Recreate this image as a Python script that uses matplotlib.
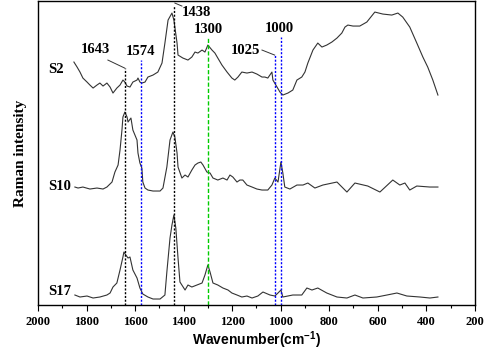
import matplotlib
matplotlib.use("Agg")
import matplotlib.pyplot as plt
import numpy as np

plt.rcParams['mathtext.fontset'] = 'custom'
plt.rcParams['mathtext.rm'] = 'Liberation Sans:bold'
plt.rcParams['mathtext.bf'] = 'Liberation Sans:bold'

# spectra (wavenumber cm-1, stacked intensity a.u.)
s2_wn = [1852, 1839, 1827, 1815, 1798, 1786, 1773, 1757, 1745, 1732, 1716, 1703, 1691, 1675,
         1662, 1650, 1642, 1633, 1621, 1609, 1592, 1588, 1580, 1572, 1559, 1547, 1526, 1506,
         1489, 1477, 1464, 1448, 1440, 1427, 1423, 1403, 1382, 1366, 1353, 1341, 1324, 1312,
         1300, 1283, 1271, 1259, 1242, 1221, 1201, 1189, 1176, 1160, 1139, 1118, 1098, 1077,
         1065, 1053, 1036, 1032, 1015, 1003, 991, 970, 950, 933, 913, 900, 888, 867, 847, 830,
         810, 789, 768, 748, 735, 723, 702, 674, 645, 612, 579, 542, 517, 497, 468, 439, 414,
         394, 373, 352]
s2_int = [243, 238, 233, 227, 223, 220, 217, 220, 222, 219, 222, 218, 212, 217,
          220, 225, 223, 219, 218, 223, 225, 227, 223, 222, 223, 228, 230, 233,
          242, 262, 285, 292, 285, 262, 250, 247, 245, 248, 253, 252, 255, 253,
          260, 255, 252, 247, 240, 233, 227, 225, 228, 233, 232, 233, 231, 228,
          228, 227, 233, 225, 218, 213, 210, 212, 215, 225, 228, 233, 242, 255, 262, 258,
          260, 263, 267, 272, 278, 280, 279, 279, 283, 293, 291, 290, 292, 288, 278, 262, 248,
          238, 225, 210]

s10_wn = [1848, 1835, 1815, 1786, 1757, 1732, 1716, 1695, 1683, 1670, 1662, 1654, 1650, 1642,
          1633, 1629, 1617, 1609, 1592, 1588, 1580, 1572, 1568, 1559, 1547, 1526, 1497, 1485,
          1469, 1456, 1444, 1436, 1427, 1423, 1407, 1394, 1382, 1366, 1353, 1341, 1329, 1320,
          1304, 1291, 1279, 1259, 1238, 1221, 1209, 1197, 1180, 1168, 1156, 1139, 1118, 1098,
          1077, 1053, 1036, 1024, 1011, 999, 991, 983, 962, 933, 908, 888, 859, 826, 768, 727,
          694, 641, 591, 538, 509, 488, 468, 439, 385, 352]
s10_int = [118, 117, 118, 116, 117, 116, 118, 123, 133, 140, 155, 175, 188, 193,
           188, 183, 187, 175, 165, 152, 142, 137, 123, 117, 115, 114, 114, 117,
           138, 165, 173, 168, 152, 138, 127, 130, 128, 135, 140, 142, 143, 140,
           133, 132, 127, 125, 127, 125, 130, 128, 123, 125, 125, 120, 118, 116,
           115, 115, 120, 127, 123, 143, 132, 118, 116, 120, 120, 122, 117, 120, 123, 113,
           122, 119, 113, 125, 120, 122, 115, 119, 118, 118]

s17_wn = [1848, 1827, 1798, 1773, 1745, 1716, 1703, 1691, 1675, 1662, 1650, 1646, 1638, 1629,
          1621, 1609, 1592, 1580, 1568, 1547, 1526, 1497, 1477, 1469, 1456, 1448, 1440, 1432,
          1423, 1415, 1394, 1382, 1366, 1345, 1324, 1312, 1300, 1291, 1279, 1259, 1238, 1217,
          1201, 1180, 1160, 1139, 1118, 1094, 1073, 1044, 1024, 1011, 999, 991, 950, 913, 892,
          871, 847, 810, 768, 727, 694, 661, 604, 562, 521, 480, 426, 385, 352]
s17_int = [10, 8, 9, 7, 8, 10, 12, 18, 22, 35, 48, 53, 50, 47,
           48, 35, 27, 17, 11, 8, 6, 6, 10, 33, 67, 80, 90, 77,
           47, 23, 15, 20, 18, 20, 22, 30, 40, 33, 22, 20, 17, 15,
           12, 10, 8, 9, 7, 9, 13, 10, 9, 12, 15, 8, 10, 10, 17,
           15, 17, 12, 8, 7, 10, 7, 8, 10, 12, 9, 8, 7, 8]

# marker lines: position, top of line, colour, label position
peak_pos = [1643, 1574, 1438, 1300, 1025, 1000]
peak_top = [237, 245, 300, 268, 250, 268]
peak_col = ['black', 'blue', 'black', '#00cc00', 'blue', 'blue']
peak_lab_x = [1765, 1576, 1345, 1300, 1143, 1007]
peak_lab_y = [256, 254, 293, 276, 255, 277]

sample_names = ['S2', 'S10', 'S17']
sample_y = [236, 119, 14]

fig, ax = plt.subplots(figsize=(4.84, 3.52), dpi=100)
fig.subplots_adjust(left=0.0785, right=0.981, top=0.997, bottom=0.1335)

for wn, it in [(s2_wn, s2_int), (s10_wn, s10_int), (s17_wn, s17_int)]:
    ax.plot(wn, it, color='#333333', lw=0.8)

for p, top, c in zip(peak_pos, peak_top, peak_col):
    ls = (0, (3, 1.5)) if c == '#00cc00' else (0, (1.5, 1.2))
    ax.vlines(p, 0, top, colors=c, linestyles=[ls], lw=1.0)

for p, lx, ly in zip(peak_pos, peak_lab_x, peak_lab_y):
    ax.text(lx, ly, str(p), ha='center', va='center', fontsize=10.5,
            fontweight='bold', family='Liberation Serif')

# leader lines for offset labels
ax.plot([1712, 1643], [245, 237], color='#333333', lw=0.7)
ax.plot([1436, 1407], [302, 299], color='#333333', lw=0.7)
ax.plot([1077, 1025], [255, 250], color='#333333', lw=0.7)

for name, y in zip(sample_names, sample_y):
    ax.text(1960, y, name, ha='left', va='center', fontsize=10.5,
            fontweight='bold', family='Liberation Serif')

ax.set_xlim(2000, 200)
ax.set_ylim(0, 304)
ax.set_xticks(np.arange(2000, 199, -200))
ax.set_xticks(np.arange(1900, 200, -200), minor=True)
ax.tick_params(axis='x', which='major', direction='out', length=4, width=0.8, pad=4)
ax.tick_params(axis='x', which='minor', direction='out', length=2.5, width=0.8)
ax.set_yticks([])
for lab in ax.get_xticklabels():
    lab.set_fontfamily('Liberation Serif')
    lab.set_fontweight('bold')
    lab.set_fontsize(9)
for sp in ax.spines.values():
    sp.set_linewidth(1.0)

ax.set_xlabel(r'Wavenumber(cm$^{\mathbf{-1}}$)', fontsize=10, fontweight='bold',
              family='Liberation Sans', labelpad=1)
ax.set_ylabel('Raman intensity', fontsize=11, fontweight='bold',
              family='Liberation Serif', labelpad=8)

fig.savefig('out.png', dpi=100)
